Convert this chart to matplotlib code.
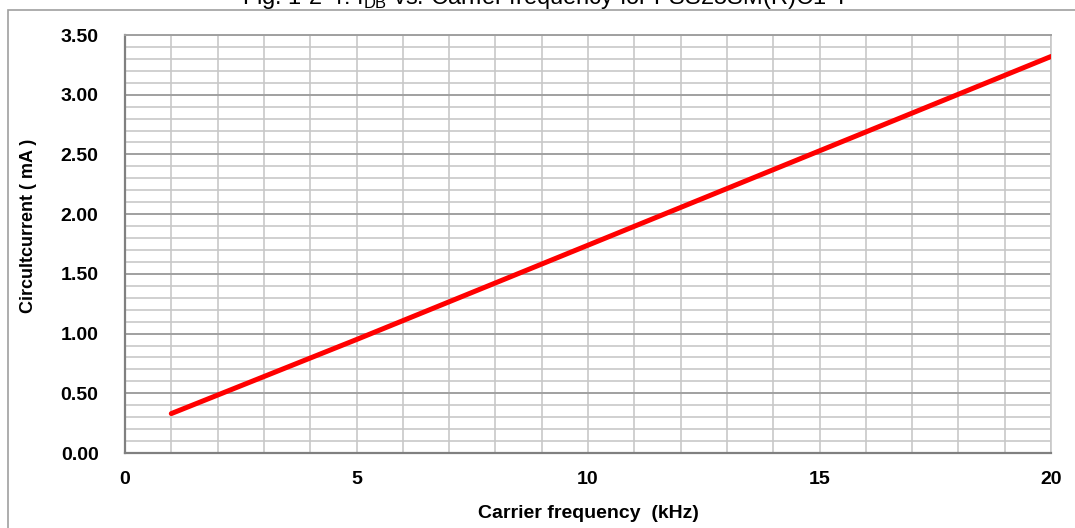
import matplotlib
matplotlib.use('Agg')
import matplotlib.pyplot as plt
from matplotlib.patches import Rectangle
from matplotlib.ticker import MultipleLocator

# circuit current read at a few carrier frequencies
freq_khz = [1, 5, 10, 15, 20]
current_ma = [0.33, 0.95, 1.74, 2.53, 3.32]

x_ticks = [0, 5, 10, 15, 20]
y_ticks = [0.0, 0.5, 1.0, 1.5, 2.0, 2.5, 3.0, 3.5]

plt.rcParams['font.family'] = ['Liberation Sans', 'DejaVu Sans']

fig = plt.figure(figsize=(10.75, 5.28), dpi=100)
ax = fig.add_axes([125 / 1075, 75 / 528, 926 / 1075, 418 / 528])

# outer frame of the figure
fig.patches.append(Rectangle((8 / 1075, -0.1), 1.2, 1.1 - 10.5 / 528,
                             transform=fig.transFigure, fill=False,
                             edgecolor='#a0a0a0', linewidth=1.2))

ax.set_xlim(0, 20)
ax.set_ylim(0, 3.5)
ax.set_xticks(x_ticks)
ax.set_yticks(y_ticks)
ax.set_yticklabels(['%.2f' % v for v in y_ticks])
ax.xaxis.set_minor_locator(MultipleLocator(1))
ax.yaxis.set_minor_locator(MultipleLocator(0.1))

ax.grid(which='minor', color='#c8c8c8', linewidth=1.2)
ax.grid(which='major', axis='y', color='#a0a0a0', linewidth=1.4)
ax.grid(which='major', axis='x', color='#c8c8c8', linewidth=1.2)
ax.set_axisbelow(True)

ax.tick_params(which='both', length=0)
ax.tick_params(axis='y', pad=19, labelsize=14)
ax.tick_params(axis='x', pad=13, labelsize=14)
for lab in ax.get_xticklabels() + ax.get_yticklabels():
    lab.set_fontweight('bold')

ax.spines['left'].set_color('#808080')
ax.spines['bottom'].set_color('#808080')
ax.spines['left'].set_linewidth(1.6)
ax.spines['bottom'].set_linewidth(1.6)
ax.spines['top'].set_color('#a0a0a0')
ax.spines['top'].set_linewidth(1.4)
ax.spines['right'].set_color('#c8c8c8')
ax.spines['right'].set_linewidth(1.2)

ax.plot(freq_khz, current_ma, color='#ff0000', linewidth=3.6,
        solid_capstyle='round', zorder=3)

ax.set_xlabel('Carrier frequency  (kHz)', fontsize=14, fontweight='bold')
ax.set_ylabel('Circultcurrent ( mA )', fontsize=13, fontweight='bold')
ax.xaxis.set_label_coords(0.5, -52 / 418)
ax.yaxis.set_label_coords(-88 / 926, 0.543)

fig.text(545 / 1075, 1 - 4 / 528,
         'Fig. 1-2-4: I$_{\\mathregular{DB}}$ vs. Carrier frequency for PSS25SM(R)C1-T',
         ha='center', va='baseline', fontsize=17)

fig.savefig('out.png', dpi=100)
